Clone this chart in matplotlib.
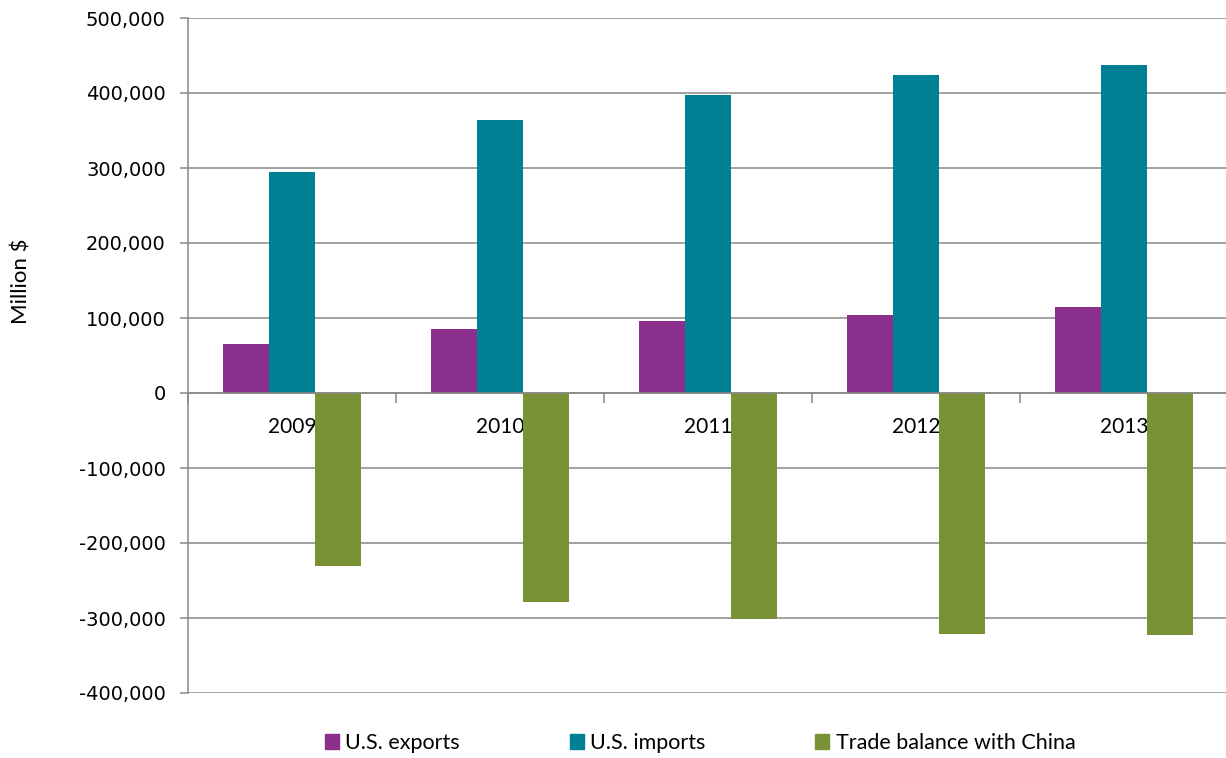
"""U.S. trade with China, 2009-2013."""

import matplotlib
matplotlib.use("Agg")
import matplotlib.pyplot as plt
from matplotlib.patches import Patch
from matplotlib.ticker import FixedLocator, FuncFormatter
import numpy as np

years   = ["2009", "2010", "2011", "2012", "2013"]
exports = [65000, 85500, 96500, 103700, 114400]
imports = [294700, 363400, 397600, 424200, 437500]
balance = [-230000, -278000, -301000, -321000, -323000]

series_names  = ["U.S. exports", "U.S. imports", "Trade balance with China"]
series_colors = ["#8B2F8D", "#008094", "#789235"]

NARROW = ["Lato", "DejaVu Sans"]
GRID = "#888888"

fig = plt.figure(figsize=(12.26, 7.58), dpi=100)
ax = fig.add_axes([188 / 1226, 1 - 693 / 758, 1040 / 1226, 675 / 758])

x = np.arange(len(years))
w = 1 / 4.5  # excel gap width 150%
for i, (vals, col) in enumerate(zip([exports, imports, balance], series_colors)):
    ax.bar(x + (i - 1) * w, vals, width=w, color=col, zorder=1)

ax.set_xlim(-0.5, len(years) - 0.5)
ax.set_ylim(-400000, 500000)
ax.set_axisbelow(True)

# y axis
ax.yaxis.set_major_locator(FixedLocator(np.arange(-400000, 500001, 100000)))
ax.yaxis.set_major_formatter(FuncFormatter(lambda v, _: f"{int(v):,}"))
ax.tick_params(axis="y", length=6, width=1.1, color=GRID, pad=10, labelsize=14)
ax.grid(axis="y", color=GRID, lw=1.1)

# category axis sits on zero, ticks between groups, labels at centres
ax.spines["bottom"].set_position(("data", 0))
ax.spines["bottom"].set_color(GRID)
ax.spines["bottom"].set_linewidth(1.1)
ax.spines["left"].set_color(GRID)
ax.spines["left"].set_linewidth(1.1)
ax.spines["top"].set_visible(False)
ax.spines["right"].set_visible(False)
ax.set_xticks(np.arange(-0.5, len(years)), labels=[])
ax.set_xticks(x, labels=years, minor=True)
ax.tick_params(axis="x", which="major", length=7, width=1.1, color=GRID)
ax.tick_params(axis="x", which="minor", length=0, pad=17, labelsize=15)
for t in ax.get_xticklabels(minor=True):
    t.set_family(NARROW)

fig.text(22 / 1226, 1 - 281 / 758, "Million $", rotation=90, ha="center",
         va="center", fontsize=16, family=NARROW)

handles = [Patch(color=c) for c in series_colors]
fig.legend(handles, series_names, loc="center", bbox_to_anchor=(700 / 1226, 1 - 743 / 758),
           ncol=3, frameon=False, handlelength=0.65, handleheight=0.65,
           handletextpad=0.3, columnspacing=5.1, prop={"family": NARROW, "size": 15.5})

fig.savefig("out.png", dpi=100)
plt.close(fig)
